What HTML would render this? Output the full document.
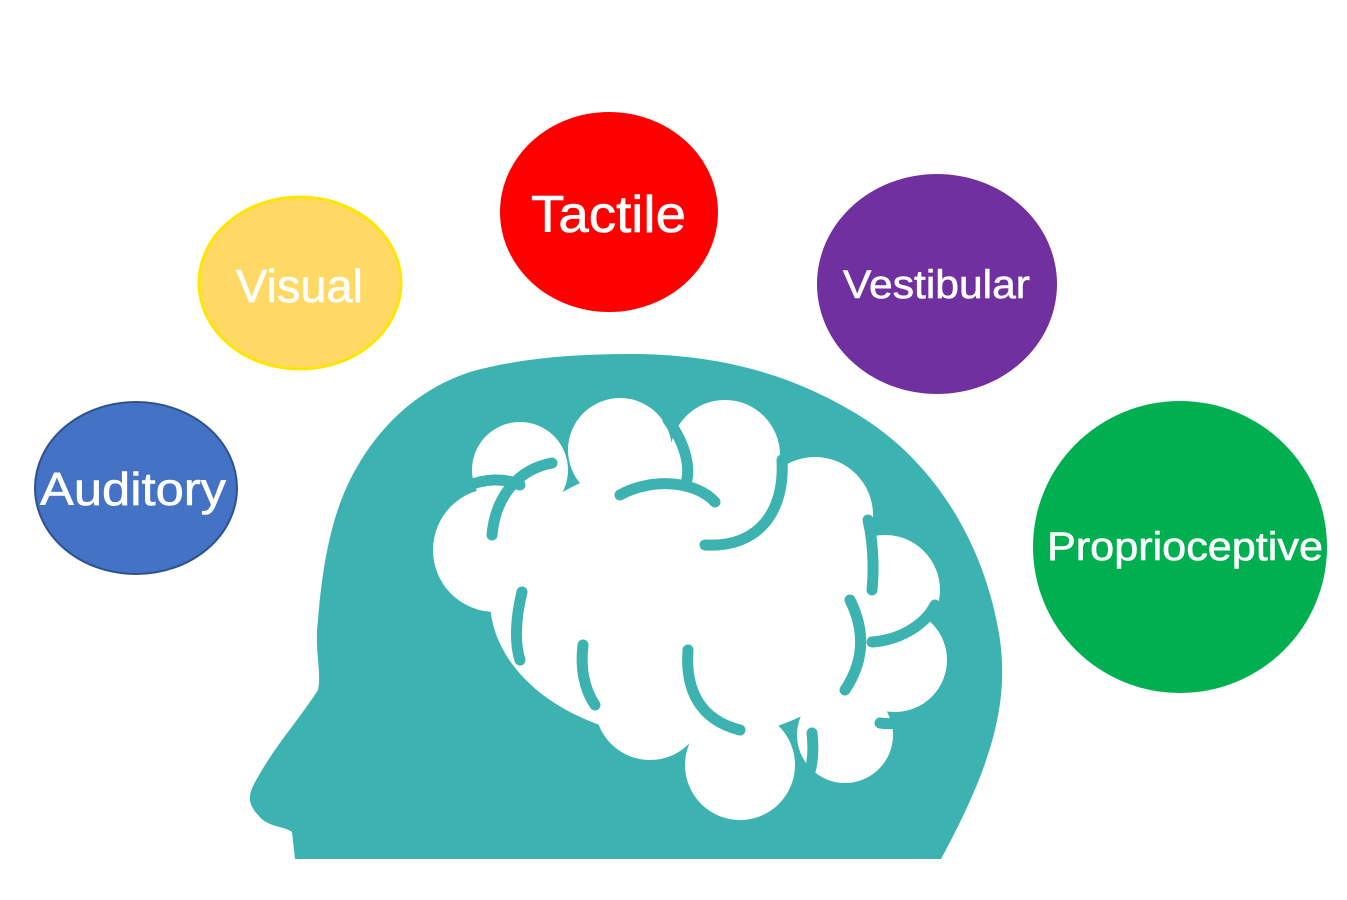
<!DOCTYPE html>
<html><head><meta charset="utf-8"><style>html,body{margin:0;padding:0;background:#fff}svg{display:block}</style></head>
<body>
<svg width="1347" height="900" viewBox="0 0 1347 900" xmlns="http://www.w3.org/2000/svg" font-family="'Liberation Sans', sans-serif">
<rect width="1347" height="900" fill="#fff"/>
<path d="M630,354 C720,354 790,375 850,410 C930,455 985,540 1000,640 C1008,700 995,760 941,859 L295,859 L292,832 C285,826 268,828 258,815 C244,800 250,790 262,770 C280,740 300,718 318,690 C322,672 314,650 318,620 C322,570 330,520 350,480 C375,430 415,390 470,372 C520,358 575,354 630,354 Z" fill="#3cb3b0"/>
<g fill="#fff">
<ellipse cx="690" cy="600" rx="200" ry="140"/>
<circle cx="520" cy="470" r="48"/>
<circle cx="495" cy="550" r="62"/>
<circle cx="620" cy="450" r="52"/>
<circle cx="725" cy="455" r="55"/>
<circle cx="815" cy="515" r="58"/>
<circle cx="885" cy="590" r="55"/>
<circle cx="895" cy="660" r="52"/>
<circle cx="845" cy="735" r="48"/>
<circle cx="740" cy="765" r="55"/>
<circle cx="650" cy="705" r="55"/>
<circle cx="570" cy="645" r="55"/>
</g>
<g fill="none" stroke="#3cb3b0" stroke-width="11" stroke-linecap="round">
<path d="M552,463 C515,470 495,500 492,535"/>
<path d="M465,487 C485,478 505,478 520,485"/>
<path d="M620,495 C650,478 695,480 715,502"/>
<path d="M668,420 C690,450 690,475 685,485"/>
<path d="M705,545 C760,548 785,510 782,460"/>
<path d="M868,520 C875,550 873,580 872,590"/>
<path d="M522,592 C515,620 515,645 520,660"/>
<path d="M583,645 C580,670 585,690 595,705"/>
<path d="M688,650 C685,690 700,720 740,730"/>
<path d="M850,600 C865,630 865,660 845,690"/>
<path d="M872,642 C900,640 925,625 935,605"/>
<path d="M812,733 C815,760 810,780 800,790"/>
<path d="M880,723 C895,725 905,722 910,718"/>
</g>
<ellipse cx="136" cy="488" rx="101" ry="86" fill="#4472c4" stroke="#2f528f" stroke-width="2"/>
<ellipse cx="300" cy="283" rx="101" ry="86" fill="#ffd966" stroke="#ffe600" stroke-width="3"/>
<ellipse cx="609" cy="212" rx="109" ry="100" fill="#ff0000"/>
<ellipse cx="937" cy="284" rx="120" ry="110" fill="#7030a0"/>
<ellipse cx="1180" cy="547" rx="147" ry="146" fill="#00b050"/>
<g fill="#fff" stroke="#fff" stroke-width="0.6">
<text x="40" y="505" font-size="46" textLength="186" lengthAdjust="spacingAndGlyphs">Auditory</text>
<text x="236" y="302" font-size="46" textLength="127" lengthAdjust="spacingAndGlyphs">Visual</text>
<text x="531" y="232" font-size="52" textLength="155" lengthAdjust="spacingAndGlyphs">Tactile</text>
<text x="843" y="298" font-size="40" textLength="187" lengthAdjust="spacingAndGlyphs">Vestibular</text>
<text x="1047" y="560" font-size="40" textLength="276" lengthAdjust="spacingAndGlyphs">Proprioceptive</text>
</g>
</svg>
</body></html>
